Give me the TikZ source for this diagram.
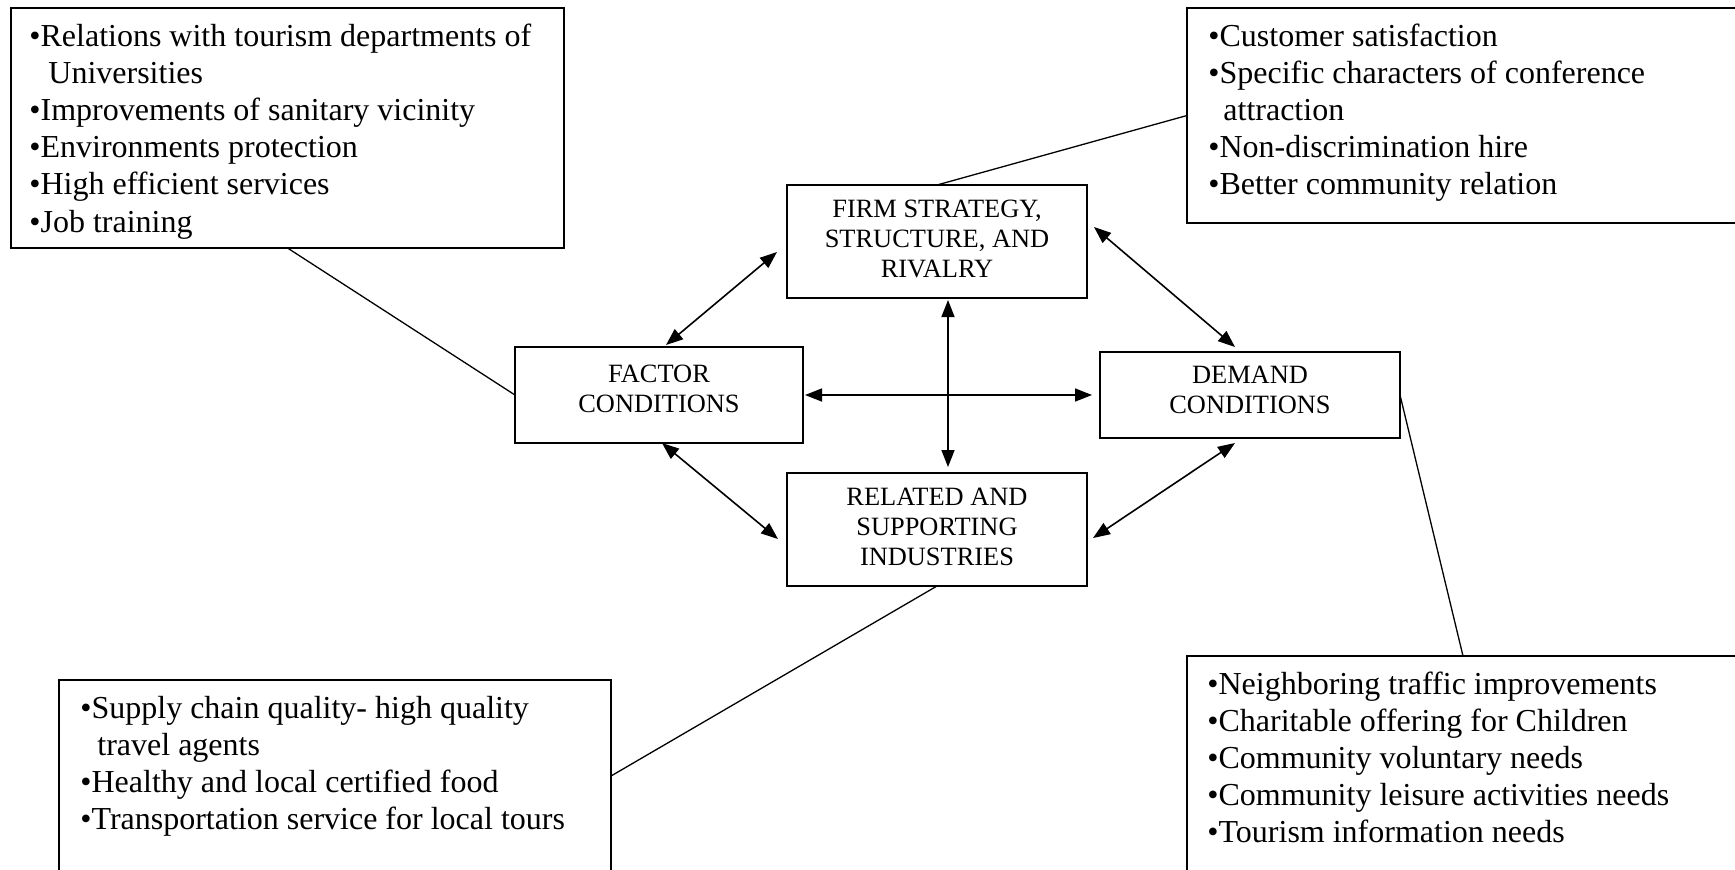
\documentclass[tikz,border=0pt]{standalone}
\usepackage{fontspec}
\setmainfont{Liberation Serif}
\usetikzlibrary{arrows.meta}

\newcommand\sidefont{\fontsize{16pt}{18.6pt}\selectfont}
\newcommand\corefont{\fontsize{13.2pt}{15pt}\selectfont}

\begin{document}
\begin{tikzpicture}[x=0.5pt,y=-0.5pt,
  frame/.style={draw, line width=1pt, rectangle, inner sep=0pt, outer sep=0pt},
  core/.style={frame, font=\corefont},
  note/.style={anchor=base west, inner sep=0pt, font=\sidefont},
  link/.style={line width=0.65pt},
  mutual/.style={line width=0.8pt,
    {Triangle[length=8.5pt,width=6.5pt]}-{Triangle[length=8.5pt,width=6.5pt]}}
]
\useasboundingbox (0,0) rectangle (1735,869);

% four determinants of the diamond
\node[core, minimum width=150pt, minimum height=56.5pt] (firm) at (937,241.5)
  {\begin{tabular}{@{}c@{}}FIRM STRATEGY,\\STRUCTURE, AND\\RIVALRY\end{tabular}};
\node[core, minimum width=144pt, minimum height=48pt] (factor) at (659,395)
  {\begin{tabular}{@{}c@{}}FACTOR\\CONDITIONS\\[4pt]\end{tabular}};
\node[core, minimum width=150pt, minimum height=43pt] (demand) at (1250,395)
  {\begin{tabular}{@{}c@{}}DEMAND\\CONDITIONS\\[3pt]\end{tabular}};
\node[core, minimum width=150pt, minimum height=56.5pt] (related) at (937,529.5)
  {\begin{tabular}{@{}c@{}}RELATED AND\\SUPPORTING\\INDUSTRIES\end{tabular}};

% explanatory boxes, cut off at the page edges
\begin{scope}
\clip (0,0) rectangle (1735,869);
\node[frame, minimum width=276.5pt, minimum height=120pt] (tl) at (287.5,128) {};
\node[frame, minimum width=276pt, minimum height=107.5pt] (tr) at (1463,115.5) {};
\node[frame, minimum width=276pt, minimum height=96pt] (bl) at (335,776) {};
\node[frame, minimum width=276pt, minimum height=115pt] (br) at (1463,771) {};
\end{scope}

\node[note] (tltext) at (29,46) {\begin{tabular}[t]{@{}l@{}}
•Relations with tourism departments of\\
\hspace*{9.5pt}Universities\\
•Improvements of sanitary vicinity\\
•Environments protection\\
•High efficient services\\
•Job training\end{tabular}};

\node[note] (trtext) at (1208,46) {\begin{tabular}[t]{@{}l@{}}
•Customer satisfaction\\
•Specific characters of conference\\
\hspace*{7.5pt}attraction\\
•Non-discrimination hire\\
•Better community relation\end{tabular}};

\node[note] (bltext) at (80,718) {\begin{tabular}[t]{@{}l@{}}
•Supply chain quality- high quality\\
\hspace*{8.5pt}travel agents\\
•Healthy and local certified food\\
•Transportation service for local tours\end{tabular}};

\node[note] (brtext) at (1207,694) {\begin{tabular}[t]{@{}l@{}}
•Neighboring traffic improvements\\
•Charitable offering for Children\\
•Community voluntary needs\\
•Community leisure activities needs\\
•Tourism information needs\end{tabular}};

% callout lines
\draw[link] (tl.south) -- (factor.west);
\draw[link] (firm.north) -- (tr.west);
\draw[link] (related.south) -- (bl.east);
\draw[link] (demand.east) -- (br.north);

% two-way influences
\draw[mutual] ([shift={(7,-2)}]factor.north) -- ([shift={(-10,10.5)}]firm.west);
\draw[mutual] ([shift={(7,-14.5)}]firm.east) -- ([shift={(-15,-5)}]demand.north);
\draw[mutual] ([shift={(2,0)}]factor.east) -- ([shift={(-8,0)}]demand.west);
\draw[mutual] ([shift={(11,2)}]firm.south) -- ([shift={(11,-6)}]related.north);
\draw[mutual] ([shift={(3,0)}]factor.south) -- ([shift={(-9,9.5)}]related.west);
\draw[mutual] ([shift={(-15,5)}]demand.south) -- ([shift={(6,8.5)}]related.east);
\end{tikzpicture}
\end{document}
